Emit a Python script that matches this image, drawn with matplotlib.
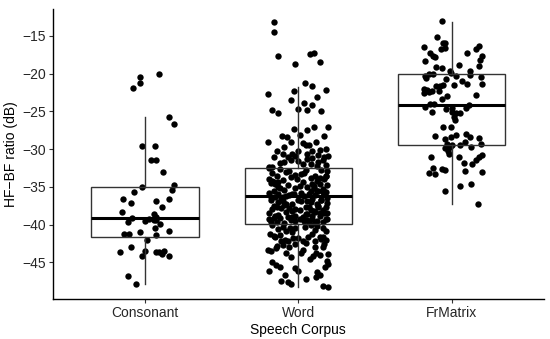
import numpy as np
import matplotlib
matplotlib.use("Agg")
import matplotlib.pyplot as plt

plt.rcParams['font.family'] = ['Liberation Sans', 'DejaVu Sans']

corpora = ["Consonant", "Word", "FrMatrix"]

# box statistics (dB)
q1 = [-41.6, -39.85, -29.4]
med = [-39.1, -36.2, -24.1]
q3 = [-35.0, -32.5, -20.0]
whislo = [-47.9, -48.2, -37.2]
whishi = [-25.8, -21.7, -13.1]

# jittered points: value and horizontal jitter (category units)
cons_val = [-20.5, -21.2, -21.85, -20.0, -25.7, -26.7, -29.55, -29.6, -31.5, -31.5,
            -33.0, -35.0, -34.8, -35.4, -35.7, -36.6, -37.1, -36.85, -36.6, -37.6,
            -38.3, -38.65, -39.0, -39.1, -39.6, -39.5, -39.3, -39.4, -39.45, -39.85,
            -40.95, -40.5, -40.8, -41.3, -41.3, -41.4, -42.05, -43.0, -43.6, -43.5,
            -44.1, -43.6, -43.65, -43.5, -43.9, -44.1, -46.75, -47.9]
cons_dx = [-0.03, -0.03, -0.08, 0.09, 0.16, 0.19, -0.02, 0.065, 0.04, 0.07,
           0.12, -0.02, 0.19, 0.18, -0.07, -0.14, -0.09, 0.07, 0.16, 0.11,
           -0.15, 0.06, 0.07, -0.085, -0.11, 0.0, 0.03, 0.06, 0.075, 0.10,
           -0.03, 0.065, 0.16, -0.135, -0.10, 0.07, 0.015, -0.09, -0.16, 0.0,
           -0.02, 0.075, 0.09, 0.125, 0.11, 0.155, -0.11, -0.055]

word_val = [
    # above the box
    -13.2, -14.5, -17.7, -17.4, -17.2, -18.75, -18.5, -21.2, -21.6, -22.1,
    -22.7, -22.3, -23.1, -23.5, -23.85, -24.15, -24.7, -24.8, -24.95, -24.8,
    -25.25, -27.1, -27.0, -27.4, -27.3, -28.2, -28.35, -28.1, -28.2, -29.0,
    -29.0, -29.15, -29.4, -29.0, -30.0, -30.2, -30.2, -30.7, -30.7, -31.0,
    -30.8, -31.0, -30.9, -31.75, -31.5, -31.35, -31.9, -31.7, -32.3,
    -30.3, -30.6, -31.1, -31.4, -31.8, -32.0, -32.2, -32.4, -31.2, -30.9,
    -32.1, -31.6, -29.7, -30.1, -29.4,
    # inside the box
    -32.6, -32.8, -33.1, -32.7, -33.4, -32.9, -33.0, -33.6, -32.5, -33.3,
    -33.8, -33.5, -34.0, -33.7, -34.2, -33.9, -34.4, -34.1, -33.6, -34.3,
    -34.6, -34.8, -34.5, -35.0, -34.7, -35.2, -34.9, -35.1, -34.6, -35.3,
    -35.4, -35.6, -35.5, -35.8, -35.7, -35.9, -35.5, -36.0, -35.6, -35.8,
    -36.1, -36.3, -36.0, -36.4, -36.2, -36.5, -36.1, -36.6, -36.3, -36.7,
    -36.8, -37.0, -36.9, -37.2, -36.8, -37.3, -37.1, -37.4, -36.9, -37.5,
    -37.6, -37.8, -37.7, -37.9, -37.6, -38.0, -37.8, -38.1, -37.7, -38.2,
    -38.3, -38.5, -38.4, -38.6, -38.3, -38.7, -38.5, -38.8, -38.4, -38.9,
    -39.0, -39.1, -38.9, -39.2, -39.0, -39.3, -39.1, -39.4, -39.2, -39.5,
    -39.6, -39.4, -39.7, -39.5, -39.8, -39.6, -39.3, -39.7, -39.8, -39.5,
    -33.2, -34.6, -35.9, -37.0, -38.2, -36.5, -34.9, -38.6, -37.3, -35.2,
    -32.9, -34.0, -35.5, -36.7, -37.9, -39.2, -33.8, -36.2, -38.8, -35.0,
    -33.5, -34.4, -36.9, -37.6, -38.1, -35.7, -39.0, -34.2, -36.0, -37.5,
    # below the box
    -40.3, -40.45, -40.4, -40.3, -40.7, -40.5,
    -41.2, -41.6, -41.4, -42.0, -42.2, -41.8, -41.8, -42.2, -41.6, -42.2, -41.6, -42.0,
    -43.3, -43.1, -42.7, -43.7, -42.5, -43.4, -44.2, -43.7, -42.9, -43.9,
    -46.1, -45.4, -45.6, -46.7, -46.1, -44.5, -45.6, -45.2, -46.7, -47.0,
    -47.4, -47.6, -47.8, -47.2, -48.1, -48.2,
    -40.0, -40.2, -40.6, -40.9, -41.0, -41.3, -41.5, -41.9, -42.1, -42.4,
    -42.6, -42.8, -43.0, -43.5, -43.8, -44.0, -44.3, -44.8, -45.0, -45.8,
    -46.3, -40.1, -40.8, -41.7, -42.9]
word_dx = [
    -0.16, -0.155, -0.13, 0.076, 0.10, -0.02, 0.14, 0.045, 0.09, 0.18,
    -0.2, -0.03, 0.125, -0.05, 0.035, 0.09, 0.0, 0.06, 0.15, -0.17,
    -0.13, 0.195, 0.1, 0.06, -0.025, -0.105, -0.075, 0.013, 0.17, -0.195,
    -0.045, 0.03, 0.067, 0.117, 0.18, 0.0, 0.09, -0.04, -0.1, -0.16,
    0.13, 0.17, 0.195, -0.09, -0.045, 0.056, 0.08, 0.13, -0.19,
    -0.14, 0.06, -0.07, 0.16, -0.12, 0.03, 0.12, -0.17, 0.09, -0.02,
    0.18, 0.0, -0.09, 0.14, 0.05,
    -0.12, 0.05, -0.17, 0.15, -0.02, 0.19, -0.08, 0.11, -0.19, 0.02,
    0.08, -0.14, 0.17, -0.05, 0.12, -0.19, 0.03, -0.10, 0.18, -0.16,
    0.14, -0.07, -0.18, 0.06, 0.19, -0.12, 0.10, -0.02, -0.15, 0.16,
    -0.09, 0.13, -0.16, 0.02, 0.18, -0.04, 0.08, -0.13, 0.16, -0.19,
    0.11, -0.10, 0.17, -0.15, 0.04, 0.19, -0.06, 0.09, -0.18, 0.00,
    0.15, -0.13, 0.06, -0.04, -0.18, 0.12, 0.19, -0.09, 0.02, -0.16,
    0.07, -0.11, 0.18, -0.17, 0.13, 0.01, -0.06, 0.16, -0.14, 0.10,
    -0.08, 0.17, -0.19, 0.05, 0.11, -0.13, 0.19, -0.02, 0.14, -0.15,
    0.03, -0.16, 0.14, 0.09, -0.07, 0.18, -0.12, 0.06, -0.19, 0.12,
    0.16, -0.05, -0.14, 0.04, 0.11, -0.18, 0.19, 0.07, -0.09, -0.02,
    0.04, 0.09, -0.03, 0.08, -0.04, -0.11, 0.01, 0.06, -0.08, 0.10,
    -0.06, -0.01, 0.12, 0.15, -0.02, 0.01, 0.14, -0.08, 0.09, -0.13,
    0.18, -0.13, -0.10, 0.05, 0.08, 0.16, -0.04, -0.17, 0.07, 0.13,
    -0.1, -0.056, -0.024, 0.041, 0.106, 0.16,
    -0.187, -0.154, -0.122, -0.089, -0.067, -0.035, 0.0, 0.03, 0.063, 0.106, 0.139, 0.182,
    -0.198, -0.143, -0.1, -0.078, -0.024, 0.03, 0.095, 0.117, 0.16, 0.193,
    -0.193, -0.143, -0.122, -0.089, 0.0, 0.074, 0.171, 0.193, 0.139, 0.117,
    -0.11, -0.067, -0.046, 0.052, 0.16, 0.193,
    -0.17, 0.12, -0.13, 0.18, -0.04, 0.09, -0.16, 0.15, -0.11, 0.05,
    0.17, -0.14, 0.11, -0.18, 0.02, 0.14, -0.05, 0.19, -0.17, -0.02,
    0.12, 0.08, -0.08, 0.16, -0.06]

frm_val = [-13.05, -15.2, -16.5, -15.9, -15.95, -16.6, -16.7, -17.2, -17.7, -17.8,
           -18.3, -17.2, -16.7, -16.3, -17.65, -18.2, -19.0, -18.9, -19.15, -19.2,
           -20.3, -20.0, -20.0, -20.6, -19.7, -19.9, -19.6, -20.2, -20.4, -20.65,
           -20.35, -21.0, -21.3, -21.4, -21.6, -21.6, -21.5, -21.5, -22.0, -22.2,
           -22.5, -22.4, -22.3, -22.25, -23.4, -23.0, -22.8, -24.05, -24.0, -24.4,
           -25.1, -24.7, -24.5, -25.1, -25.25, -25.2, -25.7, -26.1, -24.55, -24.2,
           -27.0, -27.0, -28.3, -28.6, -28.4, -28.1, -28.0, -28.4, -28.5, -29.3,
           -29.3, -29.5, -29.4, -29.1, -29.7, -29.9, -30.2, -30.7, -29.7, -30.8,
           -31.1, -31.45, -31.9, -31.8, -31.0, -31.1, -32.55, -32.6, -32.8, -33.2,
           -33.25, -32.9, -33.0, -35.5, -34.9, -34.6, -37.2]
frm_dx = [-0.063, -0.098, -0.178, -0.056, -0.041, -0.046, -0.072, -0.141, -0.12, -0.11,
          -0.176, 0.10, 0.16, 0.178, 0.198, 0.185, 0.18, 0.05, -0.1, -0.063,
          -0.174, -0.148, -0.12, -0.17, -0.013, -0.004, 0.12, 0.12, 0.19, -0.035,
          0.026, 0.07, 0.098, 0.2, -0.1, -0.078, -0.054, 0.013, -0.18, -0.163,
          -0.18, -0.145, -0.128, -0.083, -0.063, -0.033, 0.156, -0.139, -0.115, -0.172,
          -0.128, -0.035, 0.0, 0.004, 0.03, 0.052, 0.015, 0.022, 0.096, 0.11,
          -0.054, -0.004, -0.106, -0.041, -0.007, 0.026, 0.093, 0.12, 0.176, 0.19,
          -0.028, 0.002, 0.052, 0.085, 0.124, -0.043, -0.022, -0.017, -0.009, 0.195,
          0.176, 0.16, 0.135, 0.078, -0.137, 0.048, -0.12, -0.063, -0.046, -0.148,
          -0.109, 0.085, 0.195, -0.043, 0.056, 0.124, 0.17]

yticks = [-45, -40, -35, -30, -25, -20, -15]

fig = plt.figure(figsize=(5.5, 3.39), dpi=100)
ax = fig.add_axes([0.0958, 0.118, 0.893, 0.855])

pos = np.arange(1, len(corpora) + 1)
for p, vals, dx in zip(pos, [cons_val, word_val, frm_val], [cons_dx, word_dx, frm_dx]):
    ax.scatter(p + np.array(dx), vals, s=21, color='black', linewidths=0, zorder=2)

stats = []
for i, name in enumerate(corpora):
    stats.append(dict(label=name, q1=q1[i], med=med[i], q3=q3[i],
                      whislo=whislo[i], whishi=whishi[i], fliers=[]))
ax.bxp(stats, positions=pos, widths=0.7, showcaps=False, showfliers=False,
       patch_artist=True,
       boxprops=dict(facecolor='none', edgecolor='#333333', linewidth=1.0),
       whiskerprops=dict(color='#333333', linewidth=1.0),
       medianprops=dict(color='black', linewidth=2.2),
       zorder=3)

ax.set_xlim(0.4, 3.6)
ax.set_ylim(-49.85, -11.45)
ax.set_yticks(yticks)
ax.set_yticklabels([f"\u2212{abs(t)}" for t in yticks])
ax.set_xticks(pos)
ax.set_xticklabels(corpora)

for s in ['top', 'right']:
    ax.spines[s].set_visible(False)
for s in ['left', 'bottom']:
    ax.spines[s].set_linewidth(1.0)
    ax.spines[s].set_color('black')
ax.tick_params(axis='both', length=3, width=0.8, color='#333333',
               labelsize=10, labelcolor='#262626', pad=2)

ax.set_xlabel("Speech Corpus", fontsize=10, labelpad=2)
ax.set_ylabel("HF\u2212BF ratio (dB)", fontsize=10, labelpad=3)

fig.savefig("out.png", dpi=100)
